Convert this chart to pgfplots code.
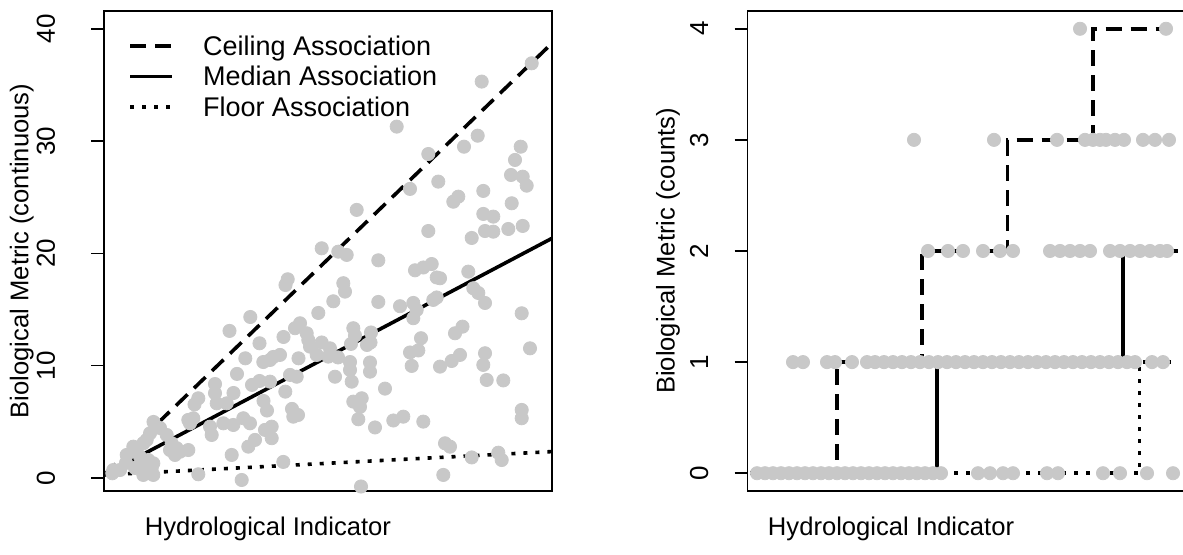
\documentclass[border=0pt]{standalone}
\usepackage{fontspec}
\setmainfont{Liberation Sans}
\usepackage{pgfplots}
\pgfplotsset{compat=1.18}
\definecolor{ptgray}{RGB}{200,200,200}
\pgfplotsset{
  myax/.style={
    scale only axis, width=224pt, height=240pt,
    axis line style={line width=0.75pt},
    xtick=\empty, ytick pos=left, tick align=outside, major tick length=6.5pt,
    tick style={black, line width=0.75pt},
    tick label style={font=\fontsize{13}{15}\selectfont},
    label style={font=\fontsize{12.8}{15}\selectfont},
    /pgf/number format/assume math mode=true,
    xlabel={Hydrological Indicator},
  },
  ceil/.style={black, line width=1.8pt, dash pattern=on 8pt off 4.5pt},
  med/.style={black, line width=1.8pt},
  flo/.style={black, line width=1.8pt, dash pattern=on 2pt off 4pt},
  pts/.style={only marks, mark=*, mark size=3.3pt, color=ptgray, draw=ptgray, fill=ptgray, mark options={draw=ptgray, fill=ptgray}, forget plot},
}
\begin{document}
\begin{tikzpicture}
\begin{axis}[myax, at={(52pt,32pt)}, anchor=south west,
  xmin=104, xmax=552, ymin=-1.16, ymax=41.6, ytick={0,10,20,30,40},
  yticklabel style={rotate=90, anchor=base, yshift=18pt},
  ylabel={Biological Metric (continuous)},
  ylabel style={at={(axis description cs:-0.169,0.5)}, anchor=base},
  xlabel style={at={(axis description cs:0.366,-0.0917)}, anchor=base},
  legend style={draw=none, fill=none, at={(axis description cs:0.0536,0.95)}, anchor=north west,
    inner sep=0pt, row sep=0pt,
    nodes={inner sep=0pt, text height=10pt, text depth=5.25pt, anchor=base west, font=\fontsize{13.5}{15}\selectfont},
    /tikz/every odd column/.append style={column sep=14.5pt}},
  legend image code/.code={\draw[#1] (0pt,4.6pt) -- (21pt,4.6pt);},
  legend cell align=left,
]
\addplot[pts] table {
x y
531.7 36.94
481.7 35.31
396.7 31.30
477.7 30.49
464.0 29.51
428.3 28.86
520.7 29.51
515.0 28.33
511.0 26.99
522.7 26.84
526.7 26.04
438.3 26.40
410.0 25.75
483.3 25.57
458.3 25.06
453.3 24.61
511.7 24.47
356.7 23.88
483.3 23.52
493.3 23.28
428.3 22.00
485.0 22.00
493.3 21.94
508.3 22.18
522.7 22.45
471.7 21.38
321.7 20.46
338.3 20.16
346.7 19.87
378.3 19.39
415.0 18.50
423.3 18.75
431.7 19.06
468.3 18.38
436.7 17.86
440.0 17.79
287.7 17.70
285.5 17.19
343.3 17.35
345.0 16.60
473.3 16.90
478.3 16.48
333.3 15.74
378.3 15.68
485.0 15.59
400.0 15.30
413.3 15.59
416.7 14.97
413.3 14.23
433.3 15.86
436.7 16.08
521.7 14.67
318.3 14.70
250.3 14.34
300.0 13.78
295.0 13.34
306.7 12.89
308.3 12.29
310.0 11.70
353.3 13.34
355.0 12.69
229.5 13.10
283.5 12.56
259.5 12.00
321.7 12.07
330.0 11.55
316.7 10.96
328.3 10.81
371.0 12.96
370.5 12.07
367.0 11.85
455.0 12.89
462.5 13.48
421.0 12.45
351.0 11.94
410.0 11.18
418.3 11.36
485.0 11.11
483.3 10.07
530.0 11.55
338.0 10.74
298.5 10.66
245.3 10.66
263.3 10.33
270.0 10.51
280.0 10.96
273.3 10.78
451.7 10.42
460.0 10.96
350.0 10.33
350.0 9.62
351.7 8.58
370.0 10.29
370.0 9.47
411.7 9.98
440.0 9.92
335.0 9.02
290.0 9.18
296.7 9.02
237.0 9.27
252.0 8.29
259.5 8.64
270.0 8.58
486.7 8.73
503.3 8.69
285.3 7.69
385.0 7.96
233.5 7.57
215.0 8.37
215.0 7.55
216.7 6.65
353.3 6.80
361.7 7.10
360.0 6.33
263.5 6.86
267.0 6.01
198.3 7.10
194.5 6.55
226.7 6.65
292.0 6.15
298.0 5.61
293.3 5.46
521.7 6.06
521.7 5.32
153.5 4.99
160.0 4.45
166.7 3.83
188.3 5.17
193.3 5.32
190.0 4.87
210.0 4.57
211.7 3.83
223.3 4.87
233.3 4.72
243.3 5.32
250.0 4.87
265.0 4.28
271.7 4.57
271.7 3.54
358.3 5.23
375.0 4.50
393.3 5.12
403.3 5.46
423.3 5.02
255.0 3.39
248.3 2.79
150.0 3.98
146.7 3.39
143.3 3.09
171.7 3.09
176.7 2.65
180.0 2.34
188.3 2.49
170.0 2.49
175.0 2.05
133.3 2.79
136.7 2.34
126.7 2.05
140.0 1.90
148.3 1.60
153.3 1.31
143.3 1.31
151.7 0.86
231.7 2.05
445.0 3.09
450.0 2.79
471.7 1.83
498.3 2.25
501.7 1.60
283.3 1.43
113.3 0.71
120.0 0.71
143.3 0.27
153.3 0.27
198.3 0.33
241.7 -0.18
443.3 0.27
361.0 -0.76
112.3 0.42
126.0 1.34
135.0 0.89
};
\addplot[ceil] coordinates {(104,0.27) (552,38.73)};
\addlegendentry{Ceiling Association}
\addplot[med] coordinates {(104,0.27) (552,21.35)};
\addlegendentry{Median Association}
\addplot[flo] coordinates {(104,0.27) (552,2.35)};
\addlegendentry{Floor Association}
\end{axis}
\begin{axis}[myax, at={(373.85pt,32pt)}, anchor=south west,
  xmin=747.7, xmax=1195.7, ymin=-0.16, ymax=4.16, ytick={0,1,2,3,4},
  yticklabel style={rotate=90, anchor=base, yshift=13.3pt},
  ylabel={Biological Metric (counts)},
  ylabel style={at={(axis description cs:-0.163,0.5)}, anchor=base},
  xlabel style={at={(axis description cs:0.32,-0.0917)}, anchor=base},
]
\addplot[pts] table {
x y
757 0
765 0
773 0
781 0
789 0
797 0
805 0
813 0
821 0
829 0
837 0
845 0
853 0
861 0
869 0
877 0
885 0
893 0
901 0
909 0
917 0
925 0
933 0
941 0
978 0
990 0
1003 0
1013 0
1047 0
1058 0
1103 0
1120 0
1147 0
1173 0
793 1
803 1
827 1
835 1
852 1
867 1
875 1
884 1
893 1
902 1
911 1
920 1
929 1
938 1
947 1
956 1
965 1
974 1
983 1
992 1
1001 1
1010 1
1019 1
1028 1
1037 1
1046 1
1055 1
1064 1
1073 1
1082 1
1091 1
1100 1
1109 1
1118 1
1127 1
1135 1
1152 1
1163 1
928 2
948 2
963 2
983 2
1000 2
1013 2
1050 2
1060 2
1070 2
1080 2
1090 2
1110 2
1120 2
1130 2
1140 2
1150 2
1160 2
1167 2
914 3
994 3
1057 3
1085 3
1093 3
1100 3
1106 3
1115 3
1124 3
1143 3
1155 3
1169 3
1080 4
1166 4
};
\addplot[ceil, const plot] coordinates {(750,0) (836.7,1) (921.7,2) (1007.3,3) (1092.7,4) (1178,4)};
\addplot[med, const plot] coordinates {(750,0) (936.7,1) (1122.7,2) (1178,2)};
\addplot[flo, const plot] coordinates {(750,0) (1139.3,1) (1178,1)};
\end{axis}
\pgfresetboundingbox
\useasboundingbox (0,0) rectangle (591.5pt,277.5pt);
\end{tikzpicture}
\end{document}
